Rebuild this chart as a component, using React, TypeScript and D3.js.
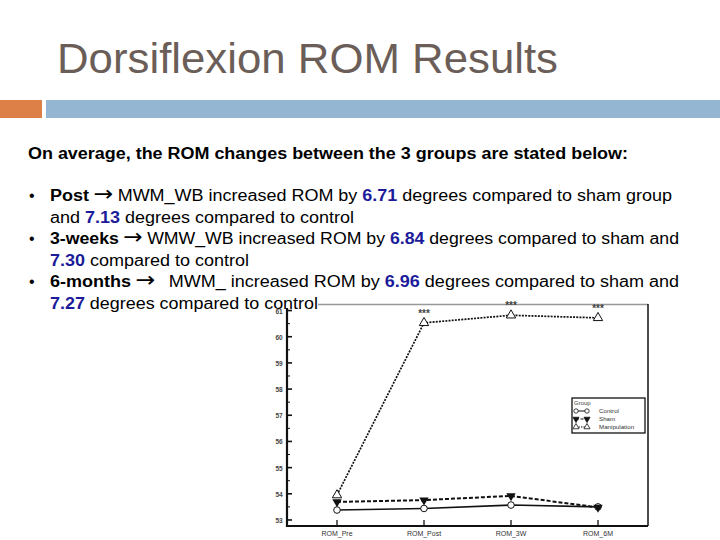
import * as d3 from "d3";

const categories = ["ROM_Pre", "ROM_Post", "ROM_3W", "ROM_6M"];
const control = [53.38, 53.44, 53.57, 53.5];
const sham = [53.69, 53.76, 53.92, 53.48];
const manipulation = [53.95, 60.53, 60.82, 60.72];
const starred = [false, true, true, true];
const yTicks = [53, 54, 55, 56, 57, 58, 59, 60, 61];

const bullets = [
  { head: "Post", lead: "MWM_WB increased ROM by ", gap: 4, n1: "6.71", mid: " degrees compared to sham group", n2: "7.13", tail: " degrees compared to control", wrapPre: "and ", w1: 622, w2: 304 },
  { head: "3-weeks", lead: "WMW_WB increased ROM by ", gap: 4, n1: "6.84", mid: " degrees compared to sham and", n2: "7.30", tail: " compared to control", wrapPre: "", w1: 629, w2: 199 },
  { head: "6-months", lead: "MWM_ increased ROM by ", gap: 12, n1: "6.96", mid: " degrees compared to sham and", n2: "7.27", tail: " degrees compared to control", wrapPre: "", w1: 629, w2: 268 },
];

const W = 720;
const H = 540;
const font = "'Liberation Sans', Arial, sans-serif";
const blue = "#1c1c9a";

export default function App() {
  const x = d3.scalePoint<string>().domain(categories).range([337, 598]);
  const y = d3.scaleLinear().domain([52.77, 61.25]).range([526, 304]);
  const pts = (vals: number[]) => vals.map((v, i) => [x(categories[i])!, y(v)] as [number, number]);
  const line = d3.line();
  const minor = d3.range(53, 61.01, 0.5).filter((v) => v % 1 !== 0);
  const tri = d3.symbol(d3.symbolTriangle, 38)();

  return (
    <svg width={W} height={H} style={{ position: "fixed", left: 0, top: 0, background: "#fff" }} fontFamily={font}>
      <text x={57} y={73} fontSize={42} fill="#6b5e58" textLength={501} lengthAdjust="spacingAndGlyphs">
        Dorsiflexion ROM Results
      </text>
      <rect x={0} y={100} width={42} height={18} fill="#dd8047" />
      <rect x={46} y={100} width={674} height={18} fill="#94b6d2" />

      <text x={28} y={159} fontSize={16} fontWeight="bold" fill="#000" textLength={600} lengthAdjust="spacingAndGlyphs">
        On average, the ROM changes between the 3 groups are stated below:
      </text>

      {bullets.map((b, i) => {
        const y0 = 201 + i * 43;
        return (
          <g key={b.head} fontSize={16} fill="#000">
            <text x={29} y={y0}>•</text>
            <text x={50} y={y0} textLength={b.w1} lengthAdjust="spacingAndGlyphs">
              <tspan fontWeight="bold">{b.head}</tspan>
              <tspan dx={4} fontFamily="'DejaVu Sans', sans-serif" fontSize={21}>→</tspan>
              <tspan dx={b.gap}>{b.lead}</tspan>
              <tspan fontWeight="bold" fill={blue}>{b.n1}</tspan>
              <tspan>{b.mid}</tspan>
            </text>
            <text x={50} y={y0 + 21.5} textLength={b.w2} lengthAdjust="spacingAndGlyphs">
              {b.wrapPre ? <tspan>{b.wrapPre}</tspan> : null}
              <tspan fontWeight="bold" fill={blue}>{b.n2}</tspan>
              <tspan>{b.tail}</tspan>
            </text>
          </g>
        );
      })}

      {/* chart frame */}
      <line x1={318} x2={648} y1={304.5} y2={304.5} stroke="#999" strokeWidth={1.5} />
      <line x1={648} x2={648} y1={304} y2={526} stroke="#111" strokeWidth={1.5} />
      <line x1={287} x2={648} y1={526} y2={526} stroke="#111" strokeWidth={2.2} />
      <line x1={287} x2={287} y1={308} y2={527} stroke="#111" strokeWidth={2.2} />

      {yTicks.map((t) => (
        <g key={t}>
          <line x1={287} x2={292} y1={y(t)} y2={y(t)} stroke="#111" strokeWidth={1.6} />
          <text x={279} y={y(t) + 3} fontSize={6.5} fontWeight="bold" textAnchor="middle" fill="#444">{t}</text>
        </g>
      ))}
      {minor.map((t) => (
        <line key={t} x1={287} x2={290} y1={y(t)} y2={y(t)} stroke="#111" strokeWidth={1} />
      ))}
      {categories.map((c) => (
        <g key={c}>
          <line x1={x(c)!} x2={x(c)!} y1={526} y2={520} stroke="#111" strokeWidth={1.3} />
          <text x={x(c)!} y={536} fontSize={7} textAnchor="middle" fill="#333">{c}</text>
        </g>
      ))}

      {/* series */}
      <path d={line(pts(manipulation))!} fill="none" stroke="#111" strokeWidth={1.7} strokeDasharray="2,1.2" />
      <path d={line(pts(sham))!} fill="none" stroke="#111" strokeWidth={2} strokeDasharray="4,2" />
      <path d={line(pts(control))!} fill="none" stroke="#111" strokeWidth={1.6} />

      {pts(control).map(([px, py], i) => (
        <circle key={"c" + i} cx={px} cy={py} r={3.3} fill="#fff" stroke="#111" strokeWidth={1} />
      ))}
      {pts(sham).map(([px, py], i) => (
        <path key={"s" + i} d={tri!} transform={`translate(${px},${py}) rotate(180)`} fill="#111" />
      ))}
      {pts(manipulation).map(([px, py], i) => (
        <path key={"m" + i} d={tri!} transform={`translate(${px},${py})`} fill="#fff" stroke="#111" strokeWidth={1} />
      ))}
      {pts(manipulation).map(([px, py], i) =>
        starred[i] ? (
          <text key={"a" + i} x={px} y={py - 6} fontSize={10} fontWeight="bold" textAnchor="middle" fill="#444">***</text>
        ) : null
      )}

      {/* legend */}
      <g>
        <rect x={572} y={398} width={73} height={35} fill="#fff" stroke="#111" strokeWidth={1.3} />
        <text x={574} y={404.5} fontSize={6} fill="#444">Group</text>
        {[
          { name: "Control", kind: "c", dash: "none", ly: 411 },
          { name: "Sham", kind: "s", dash: "3,1.5", ly: 419 },
          { name: "Manipulation", kind: "m", dash: "1.5,1", ly: 427 },
        ].map((r) => (
          <g key={r.name}>
            <line x1={576} x2={587} y1={r.ly} y2={r.ly} stroke="#111" strokeWidth={1} strokeDasharray={r.dash} />
            {[576, 587].map((lx) =>
              r.kind === "c" ? (
                <circle key={lx} cx={lx} cy={r.ly} r={2.2} fill="#fff" stroke="#111" strokeWidth={0.8} />
              ) : (
                <path
                  key={lx}
                  d={d3.symbol(d3.symbolTriangle, 16)()!}
                  transform={`translate(${lx},${r.ly}) rotate(${r.kind === "s" ? 180 : 0})`}
                  fill={r.kind === "s" ? "#111" : "#fff"}
                  stroke="#111"
                  strokeWidth={0.8}
                />
              )
            )}
            <text x={599} y={r.ly + 2.2} fontSize={6.2} fill="#333">{r.name}</text>
          </g>
        ))}
      </g>
    </svg>
  );
}
